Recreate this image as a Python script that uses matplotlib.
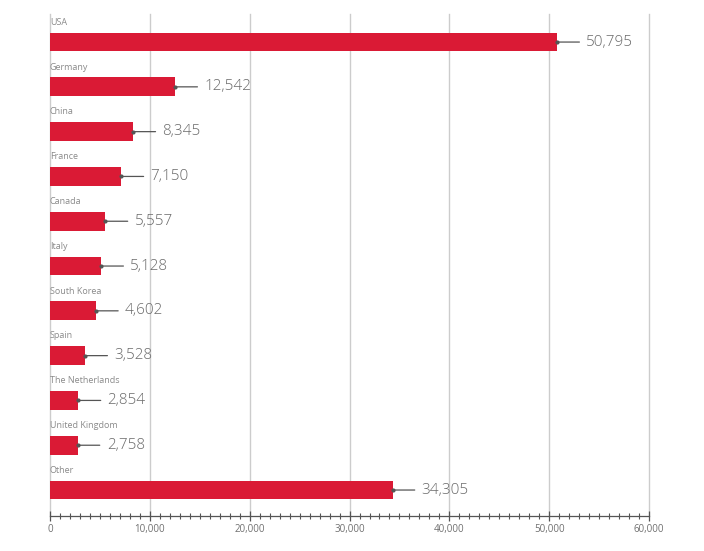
import numpy as np
import matplotlib.pyplot as plt
from matplotlib.ticker import MultipleLocator, FuncFormatter

# data
countries = ['USA', 'Germany', 'China', 'France', 'Canada', 'Italy',
             'South Korea', 'Spain', 'The Netherlands', 'United Kingdom', 'Other']
values = [50795, 12542, 8345, 7150, 5557, 5128, 4602, 3528, 2854, 2758, 34305]

bar_color = '#da1a35'
text_gray = '#6a6a6a'

plt.rcParams['font.family'] = ['Open Sans', 'DejaVu Sans']

fig = plt.figure(figsize=(7.04, 5.51), dpi=100)
ax = fig.add_axes([0.071, 0.0635, 0.851, 0.911])

pos = np.arange(len(countries))
ax.barh(pos, values, height=0.42, color=bar_color, zorder=3)

for i, (name, v) in enumerate(zip(countries, values)):
    ax.text(0, i - 0.34, name, fontsize=6.5, color='#8a8a8a',
            ha='left', va='bottom', zorder=4)
    ax.plot([v], [i], 'o', ms=2, color='#555555', zorder=5)
    ax.annotate(format(v, ','), xy=(v, i), xytext=(21, 0),
                textcoords='offset points', va='center', ha='left',
                fontsize=11, color=text_gray, fontweight='light',
                arrowprops=dict(arrowstyle='-', color='#555555', lw=0.9,
                                shrinkA=3, shrinkB=0), zorder=5)

ax.set_xlim(0, 60000)
ax.set_ylim(10.58, -0.625)
ax.set_yticks([])

ax.xaxis.set_major_locator(MultipleLocator(10000))
ax.xaxis.set_minor_locator(MultipleLocator(1000))
ax.xaxis.set_major_formatter(FuncFormatter(lambda x, p: format(int(x), ',')))
ax.tick_params(axis='x', which='major', direction='inout', length=7, width=0.9,
               color='#555555', labelsize=7, labelcolor='#707070', pad=2)
ax.tick_params(axis='x', which='minor', direction='inout', length=4, width=0.8,
               color='#555555')

# vertical grid lines, including the ones at 0 and 60,000
for gx in range(0, 60001, 10000):
    ax.axvline(gx, color='#cccccc', lw=1, zorder=0, clip_on=False)
for s in ['top', 'left', 'right']:
    ax.spines[s].set_visible(False)
ax.spines['bottom'].set_color('#555555')
ax.spines['bottom'].set_linewidth(0.9)

fig.savefig('out.png', dpi=100)
